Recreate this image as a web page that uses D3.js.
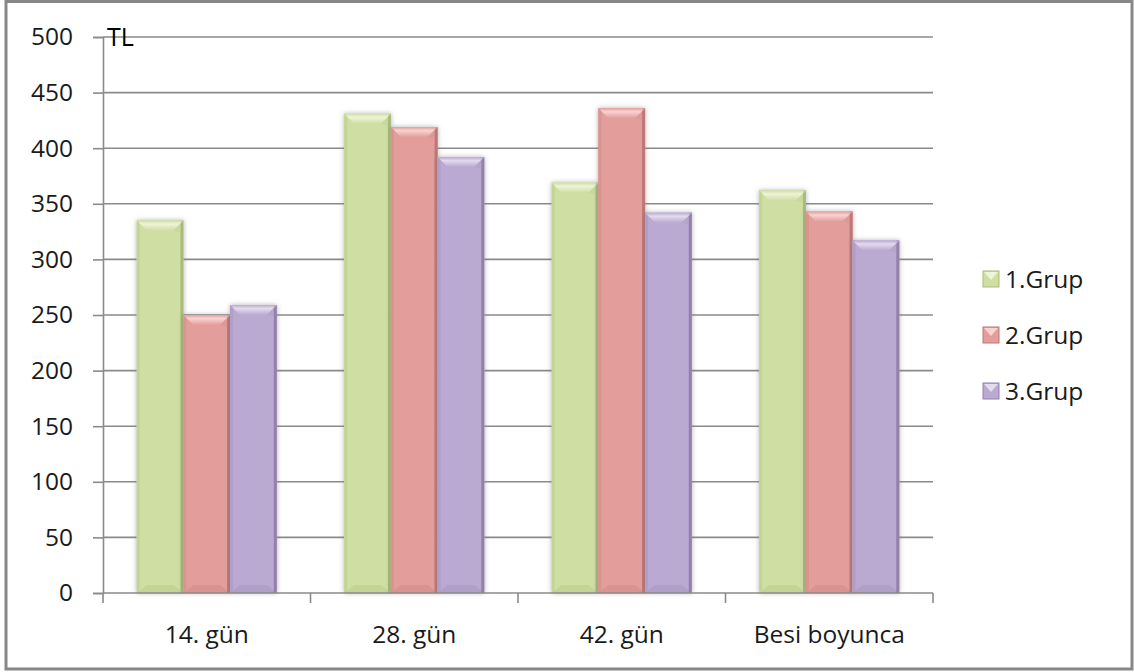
<!DOCTYPE html>
<html>
<head>
<meta charset="utf-8">
<script src="https://cdn.jsdelivr.net/npm/d3@7"></script>
<style>
  html, body { margin: 0; padding: 0; background: #fff; }
  svg { display: block; font-family: "Open Sans", "Liberation Sans", sans-serif; }
</style>
</head>
<body>
<svg id="chart" width="1134" height="672"></svg>
<script>
// Chart data
const categories = ["14. gün", "28. gün", "42. gün", "Besi boyunca"];
const seriesNames = ["1.Grup", "2.Grup", "3.Grup"];
const grup1 = [335, 431, 369, 362];
const grup2 = [250, 419, 436, 343];
const grup3 = [259, 392, 342, 317];
const yTickValues = [0, 50, 100, 150, 200, 250, 300, 350, 400, 450, 500];
const unitLabel = "TL";

const seriesValues = [grup1, grup2, grup3];
const palette = [
  { base: "#cfdea2", light: "#eef4d8", dark: "#a9bb7b", side: "#c4d495" },
  { base: "#e39e9c", light: "#f8d3d1", dark: "#bd7775", side: "#d99391" },
  { base: "#baa9d1", light: "#e3dbef", dark: "#9381ab", side: "#b09fc8" }
];

const svg = d3.select("#chart");
const margin = { left: 103, right: 201, top: 37, bottom: 79 };
const W = 1134, H = 672;
const fontSize = 24.5;
const textColor = "#1a1a1a";

// Outer frame
svg.append("rect")
  .attr("x", 6).attr("y", 1.5).attr("width", 1126).attr("height", 667.5)
  .attr("fill", "#fff").attr("stroke", "#878787").attr("stroke-width", 3);

const defs = svg.append("defs");
const shadow = defs.append("filter").attr("id", "barShadow")
  .attr("x", "-30%").attr("y", "-10%").attr("width", "160%").attr("height", "120%");
shadow.append("feDropShadow")
  .attr("dx", 0).attr("dy", 0).attr("stdDeviation", 2.5)
  .attr("flood-color", "#777").attr("flood-opacity", 0.55);

palette.forEach((p, i) => {
  const g = defs.append("linearGradient").attr("id", "topGrad" + i)
    .attr("x1", 0).attr("y1", 0).attr("x2", 0).attr("y2", 1);
  g.append("stop").attr("offset", "0%").attr("stop-color", p.base);
  g.append("stop").attr("offset", "35%").attr("stop-color", p.light);
  g.append("stop").attr("offset", "100%").attr("stop-color", p.base);
});

const x0 = d3.scaleBand()
  .domain(categories)
  .range([margin.left, W - margin.right])
  .paddingInner(0.325)
  .paddingOuter(0.1625);

const x1 = d3.scaleBand()
  .domain(seriesNames)
  .range([0, x0.bandwidth()])
  .padding(0);

const y = d3.scaleLinear()
  .domain([0, 500])
  .range([H - margin.bottom, margin.top]);

const lineColor = "#8a8a8a";

// Gridlines
svg.append("g")
  .selectAll("line")
  .data(yTickValues.filter(v => v > 0))
  .join("line")
  .attr("x1", margin.left).attr("x2", W - margin.right)
  .attr("y1", d => y(d)).attr("y2", d => y(d))
  .attr("stroke", lineColor).attr("stroke-width", 1.6);

// Y axis
const yAxis = svg.append("g")
  .attr("transform", `translate(${margin.left},0)`)
  .call(d3.axisLeft(y).tickValues(yTickValues).tickSize(10).tickPadding(20));
yAxis.select(".domain").attr("stroke", lineColor).attr("stroke-width", 1.6);
yAxis.selectAll(".tick line").attr("stroke", lineColor).attr("stroke-width", 1.6);
yAxis.selectAll(".tick text")
  .attr("font-size", fontSize).attr("fill", textColor)
  .attr("font-family", "'Open Sans', sans-serif");

// Bars
const groups = svg.append("g")
  .selectAll("g")
  .data(categories)
  .join("g")
  .attr("transform", d => `translate(${x0(d)},0)`);

groups.each(function (cat, ci) {
  const g = d3.select(this);
  seriesNames.forEach((s, si) => {
    const v = seriesValues[si][ci];
    const bx = x1(s), bw = x1.bandwidth();
    const by = y(v), y0 = y(0);
    const p = palette[si];
    const bar = g.append("g").attr("filter", "url(#barShadow)");
    const b = 10, sw = 3;
    bar.append("rect")
      .attr("x", bx).attr("y", by).attr("width", bw).attr("height", y0 - by)
      .attr("fill", p.base);
    // bottom bevel
    bar.append("polygon")
      .attr("points", [[bx, y0], [bx + b, y0 - 8], [bx + bw - b, y0 - 8], [bx + bw, y0]].join(" "))
      .attr("fill", p.side);
    // left edge strip
    bar.append("rect")
      .attr("x", bx).attr("y", by).attr("width", sw).attr("height", y0 - by)
      .attr("fill", p.side);
    // right edge strip
    bar.append("rect")
      .attr("x", bx + bw - sw).attr("y", by).attr("width", sw).attr("height", y0 - by)
      .attr("fill", p.dark);
    // top bevel
    bar.append("polygon")
      .attr("points", [[bx, by], [bx + bw, by], [bx + bw - b, by + b], [bx + b, by + b]].join(" "))
      .attr("fill", `url(#topGrad${si})`);
    // corner shading on top bevel
    bar.append("polygon")
      .attr("points", [[bx + bw, by], [bx + bw - b, by + b], [bx + bw - sw, by + b + 2], [bx + bw - sw, by]].join(" "))
      .attr("fill", p.side).attr("opacity", 0.5);
  });
});

// X axis
const xAxis = svg.append("g")
  .attr("transform", `translate(0,${y(0)})`);
xAxis.append("line")
  .attr("x1", margin.left).attr("x2", W - margin.right)
  .attr("y1", 0).attr("y2", 0)
  .attr("stroke", lineColor).attr("stroke-width", 1.6);
const boundaries = categories.map(c => x0(c) - x0.step() * x0.paddingInner() / 2)
  .concat([W - margin.right]);
xAxis.selectAll("line.tk")
  .data(boundaries)
  .join("line").attr("class", "tk")
  .attr("x1", d => d).attr("x2", d => d)
  .attr("y1", 0).attr("y2", 10)
  .attr("stroke", lineColor).attr("stroke-width", 1.6);
xAxis.selectAll("text")
  .data(categories)
  .join("text")
  .attr("x", d => x0(d) + x0.bandwidth() / 2)
  .attr("y", 50)
  .attr("text-anchor", "middle")
  .attr("font-size", fontSize).attr("fill", textColor)
  .text(d => d);

// Unit label
svg.append("text")
  .attr("x", margin.left + 4).attr("y", 46)
  .attr("font-size", 25).attr("fill", "#000")
  .text(unitLabel);

// Legend
const legend = svg.append("g");
seriesNames.forEach((s, i) => {
  const cy = 279 + i * 56;
  const p = palette[i];
  const sq = 16, lx = 983;
  const lg = legend.append("g");
  lg.append("rect").attr("x", lx).attr("y", cy - sq / 2).attr("width", sq).attr("height", sq)
    .attr("fill", p.base).attr("stroke", p.dark).attr("stroke-width", 1);
  lg.append("polygon")
    .attr("points", [[lx + 1, cy - sq / 2 + 1], [lx + sq - 1, cy - sq / 2 + 1], [lx + sq / 2, cy + 1]].join(" "))
    .attr("fill", p.light);
  lg.append("text")
    .attr("x", lx + sq + 6).attr("y", cy + 9)
    .attr("font-size", fontSize).attr("fill", textColor)
    .text(s);
});
</script>
</body>
</html>
